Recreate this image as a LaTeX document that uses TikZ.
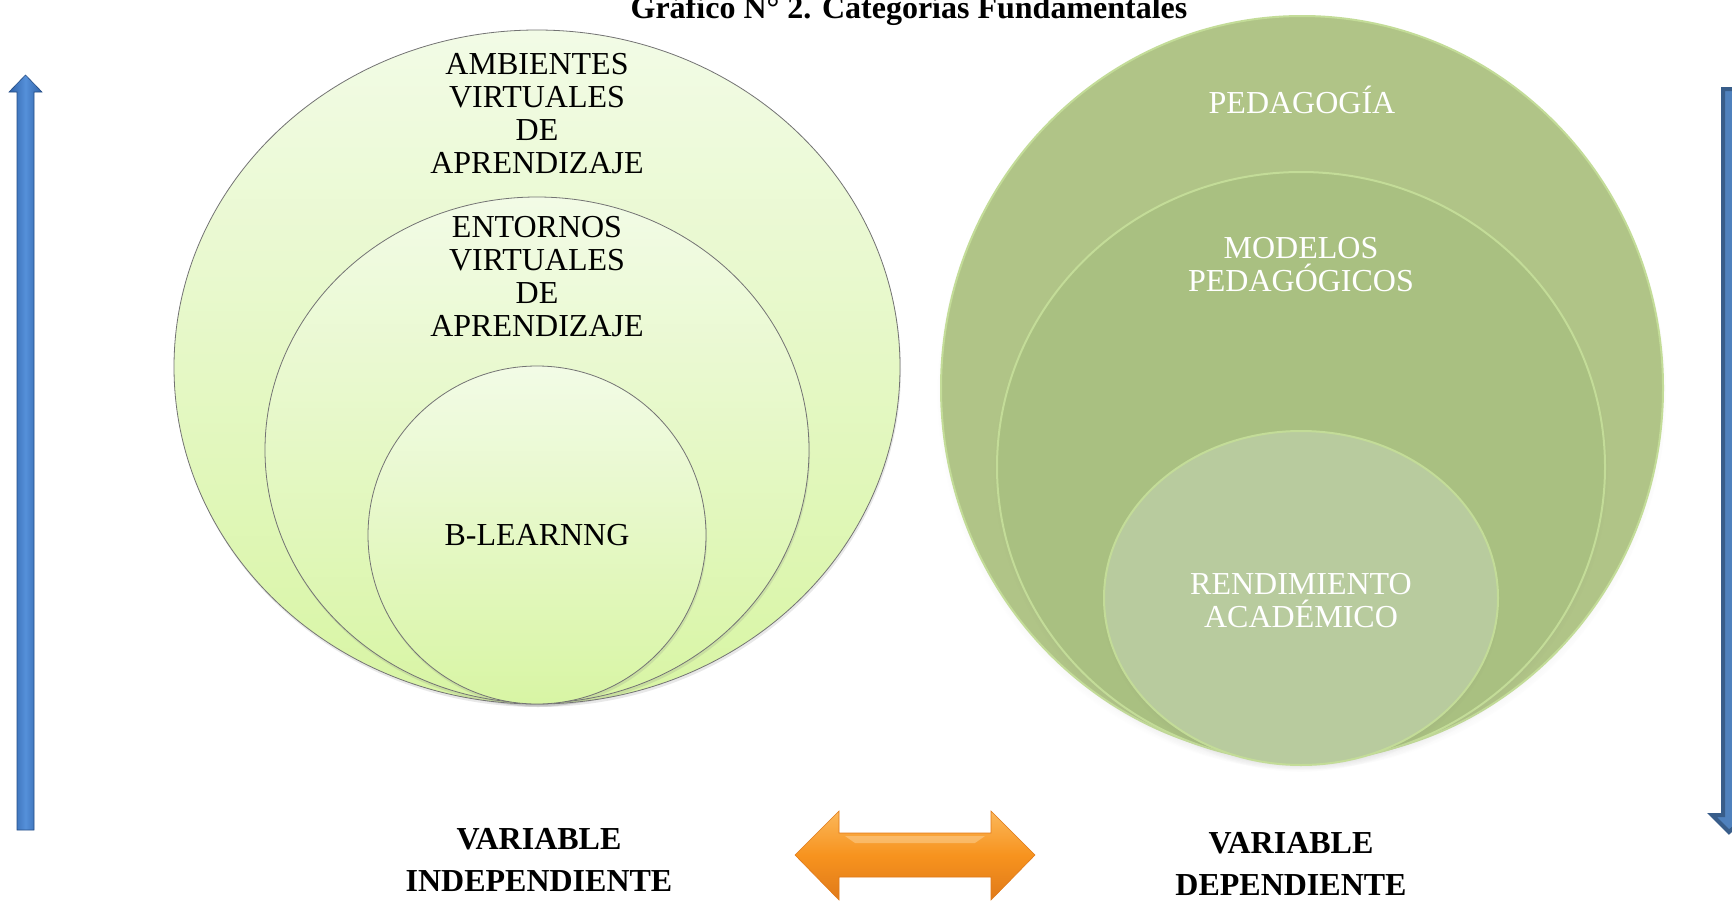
\documentclass[tikz,border=0pt]{standalone}
\usepackage{fontspec}
\setmainfont{Liberation Serif}
\usetikzlibrary{shapes.geometric,shadows,shadings}
\definecolor{lgtop}{HTML}{F2FBE6}
\definecolor{lgbot}{HTML}{D8F5A4}
\definecolor{dgouter}{HTML}{B0C487}
\definecolor{dgmid}{HTML}{A9C081}
\definecolor{dginner}{HTML}{B8CB9E}
\definecolor{rimg}{HTML}{C3DC98}
\definecolor{blueA}{HTML}{2F62A8}
\definecolor{blueB}{HTML}{5590DA}
\definecolor{blueR}{HTML}{4F81BD}
\definecolor{blueRd}{HTML}{385D8A}
\definecolor{orA}{HTML}{FBB75A}
\definecolor{orB}{HTML}{F7931E}
\definecolor{orC}{HTML}{E07A1A}
\tikzset{
  lcirc/.style={ellipse, draw=black!55, line width=0.8pt, top color=lgtop, bottom color=lgbot, inner sep=0pt,
    drop shadow={opacity=0.18, shadow xshift=1pt, shadow yshift=-3pt}},
  rcirc/.style={ellipse, draw=rimg, line width=2pt, inner sep=0pt,
    circular drop shadow={opacity=0.35, shadow xshift=0pt, shadow yshift=-5pt, shadow scale=1.01}},
  ltext/.style={font=\fontsize{32}{33}\selectfont, align=center, text=black, inner sep=0pt},
  rtext/.style={font=\fontsize{32}{33}\selectfont, align=center, text=white, inner sep=0pt},
  vartext/.style={font=\bfseries\fontsize{32}{42}\selectfont, align=center, text=black, inner sep=0pt},
}
\begin{document}
\begin{tikzpicture}[x=1pt, y=-1pt]
\useasboundingbox (0,0) rectangle (1732,902);
\clip (0,0) rectangle (1732,902);
\fill[white] (0,0) rectangle (1732,902);

% title (cut at the top edge, as in the reference)
\node[font=\bfseries\fontsize{32}{38}\selectfont, anchor=base, inner sep=0pt] (title) at (909,18) {Gráfico N° 2. Categorías Fundamentales};

% left circles
\node[lcirc, minimum width=726pt, minimum height=674pt] (amb) at (537,367) {};
\node[lcirc, minimum width=544pt, minimum height=506pt] (ent) at (537,450) {};
\node[lcirc, minimum width=338pt, minimum height=338pt] (bl) at (537,535) {};

\node[ltext, anchor=base] (ambt) at (537,173) {AMBIENTES\\VIRTUALES\\DE\\APRENDIZAJE};
\node[ltext, anchor=base] (entt) at (537,336) {ENTORNOS\\VIRTUALES\\DE\\APRENDIZAJE};
\node[ltext, anchor=base] (blt) at (537,545) {B-LEARNNG};

% right circles
\node[rcirc, fill=dgouter, minimum width=722pt, minimum height=744pt] (ped) at (1302,388) {};
\node[rcirc, fill=dgmid, minimum width=608pt, minimum height=590pt] (mod) at (1301,467) {};
\node[rcirc, fill=dginner, minimum width=394pt, minimum height=334pt] (ren) at (1301,598) {};

\node[rtext, anchor=base] (pedt) at (1302,113) {PEDAGOGÍA};
\node[rtext, anchor=base] (modt) at (1301,291) {MODELOS\\PEDAGÓGICOS};
\node[rtext, anchor=base] (rent) at (1301,627) {RENDIMIENTO\\ACADÉMICO};

% left blue arrow (up)
\path[left color=blueA, right color=blueA, middle color=blueB, draw=blueA!80!black, line width=0.6pt]
  (9,92) -- (25.5,75) -- (42,92) -- (34,92) -- (34,830) -- (17,830) -- (17,92) -- cycle;

% right blue arrow (down), partly cut by the page edge
\path[fill=blueR, draw=blueRd, line width=4pt, line join=miter]
  (1723,89) -- (1745,89) -- (1745,815) -- (1748,815) -- (1729,832) -- (1712,815) -- (1723,815) -- cycle;

% orange double arrow
\path[top color=orA, bottom color=orC, middle color=orB, draw=orC, line width=0.6pt]
  (795,855) -- (839,811) -- (839,833) -- (991,833) -- (991,811) -- (1035,855) -- (991,900) -- (991,877) -- (839,877) -- (839,900) -- cycle;
\fill[orA!60!white, opacity=0.5] (845,836) -- (985,836) -- (975,843) -- (855,843) -- cycle;

% variable labels
\node[vartext, anchor=base] (vi) at (539,891) {VARIABLE\\INDEPENDIENTE};
\node[vartext, anchor=base] (vd) at (1291,895) {VARIABLE\\DEPENDIENTE};
\end{tikzpicture}
\end{document}
